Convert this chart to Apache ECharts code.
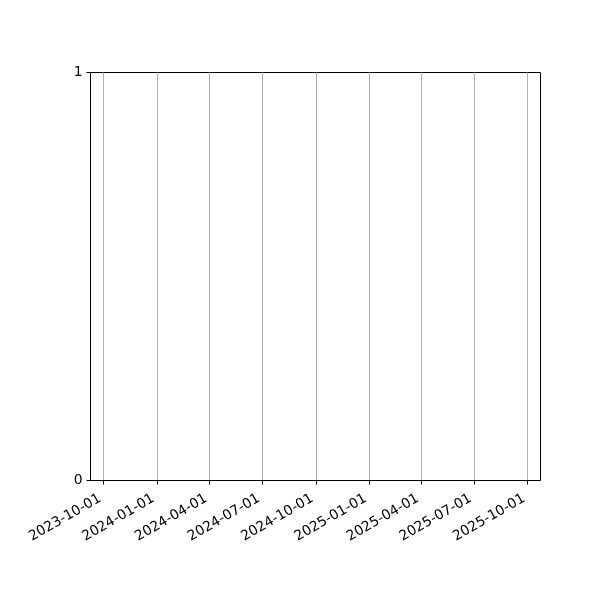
<!DOCTYPE html>
<html>
<head>
<meta charset="utf-8">
<script src="https://cdn.jsdelivr.net/npm/echarts@6/dist/echarts.min.js"></script>
<style>
  html, body { margin: 0; padding: 0; background: #fff; }
  #main { width: 600px; height: 600px; }
</style>
</head>
<body>
<div id="main"></div>
<script>
// axis range
var xStart = '2023-09-08T14:00:00';
var xEnd = '2025-10-23T10:00:00';
// quarterly tick dates
var tickDates = ['2023-10-01', '2024-01-01', '2024-04-01', '2024-07-01', '2024-10-01',
                 '2025-01-01', '2025-04-01', '2025-07-01', '2025-10-01'];
var yTicks = [0, 1];
// the chart has no data
var seriesValues = [];

var myChart = echarts.init(document.getElementById('main'));

function pad(n) { return n < 10 ? '0' + n : '' + n; }
function fmtDate(v) {
    var d = new Date(v);
    return d.getFullYear() + '-' + pad(d.getMonth() + 1) + '-' + pad(d.getDate());
}

var tickValues = tickDates.map(function (s) { return new Date(s + 'T00:00:00').getTime(); });

var option = {
    animation: false,
    backgroundColor: '#fff',
    textStyle: { fontFamily: 'DejaVu Sans' },
    grid: {
        left: 90.5, right: 59.5, top: 72.5, bottom: 119.5,
        show: true, borderColor: '#000', borderWidth: 1
    },
    xAxis: {
        type: 'value',
        min: new Date(xStart).getTime(),
        max: new Date(xEnd).getTime(),
        axisLine: { show: false },
        axisTick: { show: true, customValues: tickValues, length: 4, inside: false,
                    lineStyle: { color: '#000', width: 1 } },
        axisLabel: {
            customValues: tickValues,
            rotate: 30, color: '#000', fontSize: 13.9, margin: 15,
            padding: [0, 4, 0, 0],
            fontFamily: 'DejaVu Sans',
            formatter: function (v) { return fmtDate(v); }
        },
        splitLine: { show: true, lineStyle: { color: '#b0b0b0', width: 1 } }
    },
    yAxis: {
        type: 'value',
        min: yTicks[0], max: yTicks[yTicks.length - 1], interval: 1,
        axisLine: { show: false },
        axisTick: { show: true, length: 4, lineStyle: { color: '#000', width: 1 } },
        axisLabel: { color: '#000', fontSize: 13.9, margin: 8, padding: [10, 0, 0, 0],
                     fontFamily: 'DejaVu Sans' },
        splitLine: { show: false }
    },
    series: [{
        type: 'line',
        data: seriesValues,
        showSymbol: false
    }]
};

myChart.setOption(option);
</script>
</body>
</html>
